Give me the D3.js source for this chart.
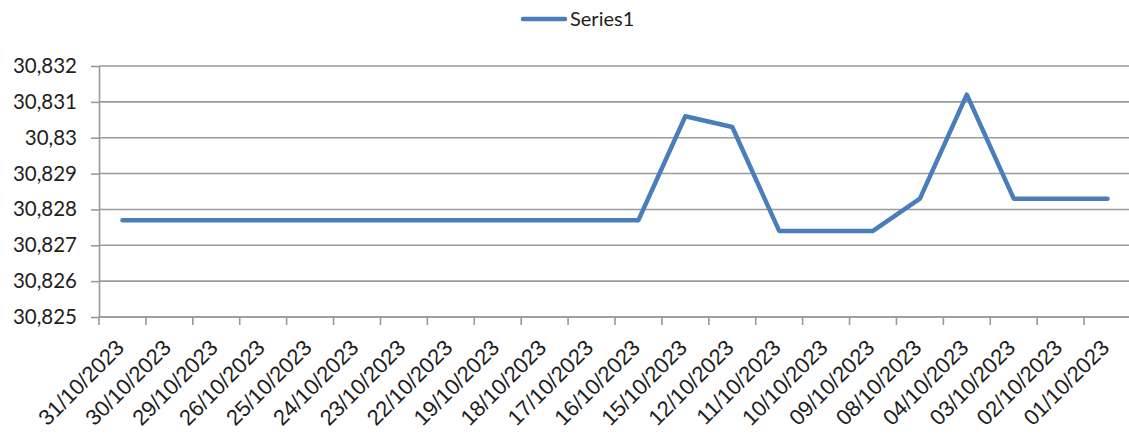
<!DOCTYPE html>
<html>
<head>
<meta charset="utf-8">
<script src="https://cdn.jsdelivr.net/npm/d3@7"></script>
<style>
  html, body { margin: 0; padding: 0; background: #fff; }
  svg { display: block; }
</style>
</head>
<body>
<div id="chart"></div>
<script>
// Data
const categories = ["31/10/2023", "30/10/2023", "29/10/2023", "26/10/2023", "25/10/2023", "24/10/2023",
  "23/10/2023", "22/10/2023", "19/10/2023", "18/10/2023", "17/10/2023", "16/10/2023",
  "15/10/2023", "12/10/2023", "11/10/2023", "10/10/2023", "09/10/2023", "08/10/2023",
  "04/10/2023", "03/10/2023", "02/10/2023", "01/10/2023"];
const series1 = [30.8277, 30.8277, 30.8277, 30.8277, 30.8277, 30.8277,
  30.8277, 30.8277, 30.8277, 30.8277, 30.8277, 30.8277,
  30.8306, 30.8303, 30.8274, 30.8274, 30.8274, 30.8283,
  30.8312, 30.8283, 30.8283, 30.8283];
const yTicks = [30.825, 30.826, 30.827, 30.828, 30.829, 30.83, 30.831, 30.832];
const seriesName = "Series1";

const [W, H] = [1129, 441];
const [plotLeft, plotRight, plotTop, plotBottom] = [99, 1131, 66, 317];
const [lineColor, gridColor, textColor] = ["#4a7ebb", "#9a9a9a", "#1e1e1e"];

const fmt = d3.formatLocale({decimal: ",", thousands: ".", grouping: [3], currency: ["", ""]}).format(".3~f");

const svg = d3.select("#chart").append("svg")
    .attr("width", W)
    .attr("height", H);

const x = d3.scaleBand()
    .domain(categories)
    .range([plotLeft, plotRight]);

const y = d3.scaleLinear()
    .domain([yTicks[0], yTicks[yTicks.length - 1]])
    .range([plotBottom, plotTop]);

// Gridlines
svg.append("g")
    .selectAll("line")
    .data(yTicks)
    .enter()
    .append("line")
    .attr("x1", plotLeft)
    .attr("x2", W)
    .attr("y1", d => y(d))
    .attr("y2", d => y(d))
    .attr("stroke", gridColor)
    .attr("stroke-width", 1.6);

// Y axis
const yAxis = d3.axisLeft(y)
    .tickValues(yTicks)
    .tickFormat(fmt)
    .tickSize(8)
    .tickSizeOuter(0)
    .tickPadding(14);

const gy = svg.append("g")
    .attr("transform", `translate(${plotLeft},0)`)
    .call(yAxis);
gy.select(".domain").attr("stroke", gridColor).attr("stroke-width", 1.6);
gy.selectAll(".tick line").attr("stroke", gridColor).attr("stroke-width", 1.6);
gy.selectAll(".tick text")
    .attr("fill", textColor)
    .style("font-family", "Lato, 'Open Sans', sans-serif")
    .style("font-size", "20.5px");

// X axis: labels at band centres, ticks at band boundaries
const xAxis = d3.axisBottom(x)
    .tickSize(0)
    .tickSizeOuter(0);

const gx = svg.append("g")
    .attr("transform", `translate(0,${plotBottom})`)
    .call(xAxis);
gx.select(".domain").remove();
gx.selectAll(".tick text")
    .attr("fill", textColor)
    .attr("text-anchor", "end")
    .attr("dy", null)
    .attr("y", 0)
    .attr("transform", "translate(3,32) rotate(-45)")
    .style("font-family", "'Liberation Sans', Arial, sans-serif")
    .style("font-size", "22px");

svg.append("line")
    .attr("x1", plotLeft)
    .attr("x2", W)
    .attr("y1", plotBottom)
    .attr("y2", plotBottom)
    .attr("stroke", gridColor)
    .attr("stroke-width", 1.6);

svg.append("g")
    .selectAll("line")
    .data(categories)
    .enter()
    .append("line")
    .attr("x1", d => x(d))
    .attr("x2", d => x(d))
    .attr("y1", plotBottom)
    .attr("y2", plotBottom + 8)
    .attr("stroke", gridColor)
    .attr("stroke-width", 1.6);

// Series line
const line = d3.line()
    .x((d, i) => x(categories[i]) + x.bandwidth() / 2)
    .y(d => y(d));

svg.append("path")
    .datum(series1)
    .attr("d", line)
    .attr("fill", "none")
    .attr("stroke", lineColor)
    .attr("stroke-width", 4.5)
    .attr("stroke-linejoin", "round")
    .attr("stroke-linecap", "round");

// Legend
const legend = svg.append("g").attr("class", "legend");
legend.append("line")
    .attr("x1", 523)
    .attr("x2", 565)
    .attr("y1", 19)
    .attr("y2", 19)
    .attr("stroke", lineColor)
    .attr("stroke-width", 4.5)
    .attr("stroke-linecap", "round");
legend.append("text")
    .text(seriesName)
    .attr("x", 570)
    .attr("y", 26)
    .attr("fill", textColor)
    .style("font-family", "Lato, 'Open Sans', sans-serif")
    .style("font-size", "20px");
</script>
</body>
</html>
